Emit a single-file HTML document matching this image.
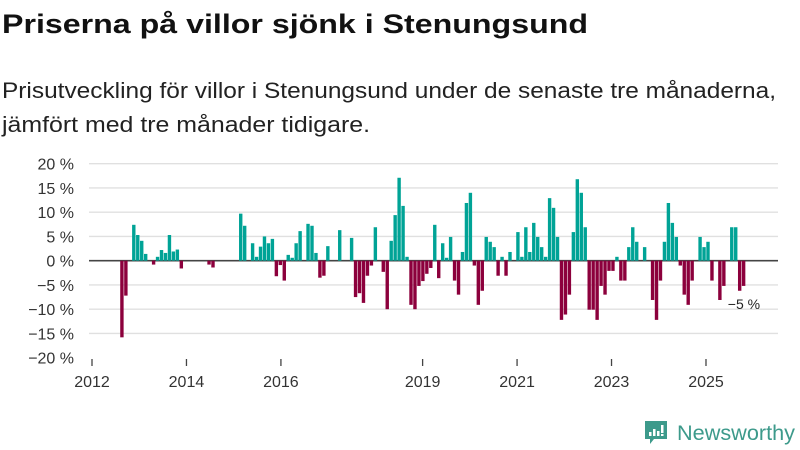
<!DOCTYPE html>
<html><head><meta charset="utf-8"><style>
html,body{margin:0;padding:0;background:#fff;}
svg{display:block;font-family:"Liberation Sans",sans-serif;}
</style></head><body>
<svg id="chart" width="800" height="450" viewBox="0 0 800 450" xmlns="http://www.w3.org/2000/svg">
<text x="2" y="33" font-size="27" font-weight="bold" fill="#111" textLength="586" lengthAdjust="spacingAndGlyphs">Priserna på villor sjönk i Stenungsund</text>
<text x="2" y="98" font-size="22" fill="#222" textLength="774" lengthAdjust="spacingAndGlyphs">Prisutveckling för villor i Stenungsund under de senaste tre månaderna,</text>
<text x="2" y="132" font-size="22" fill="#222" textLength="368" lengthAdjust="spacingAndGlyphs">jämfört med tre månader tidigare.</text>
<g id="grid"></g>
<g id="ylabels"></g>
<g id="bars"></g>
<g id="xaxis"></g>
<g>
<path d="M645 421 h22 v18 h-13 l-4 5 v-5 h-5 z" fill="#3d9a8b"/>
<rect x="649" y="432" width="2.5" height="4" fill="#fff"/>
<rect x="653" y="429" width="2.5" height="7" fill="#fff"/>
<rect x="657" y="431" width="2.5" height="5" fill="#fff"/>
<rect x="661" y="425" width="2.5" height="8" fill="#fff"/>
<rect x="661" y="434" width="2.5" height="2" fill="#fff"/>
<text x="677" y="440" font-size="21" fill="#3d9a8b" textLength="118" lengthAdjust="spacingAndGlyphs">Newsworthy</text>
</g>
</svg>
<script>
const months = [7,8,10,11,12,13,15,16,17,18,19,20,21,22,29,30,37,38,40,41,42,43,44,45,46,47,48,49,50,51,52,54,55,56,57,58,59,62,65,66,67,68,69,70,71,73,74,75,76,77,78,79,80,81,82,83,84,85,86,87,88,89,90,91,92,93,94,95,96,97,98,99,100,101,102,103,104,105,107,108,109,110,111,112,113,114,115,116,117,118,119,120,121,122,123,124,125,126,127,128,129,130,131,132,133,134,135,136,137,139,141,142,143,144,145,146,147,148,149,150,151,153,154,155,156,158,159,161,162,163,164];
const values = [-15.8,-7.2,7.4,5.3,4.1,1.4,-0.8,0.8,2.2,1.6,5.3,1.9,2.3,-1.6,-0.8,-1.4,9.7,7.2,3.6,0.8,2.9,5.0,3.6,4.5,-3.2,-0.9,-4.1,1.2,0.6,3.6,6.1,7.6,7.2,1.6,-3.5,-3.1,3.0,6.3,4.7,-7.5,-6.7,-8.7,-3.1,-1.0,6.9,-2.3,-10.0,4.1,9.4,17.1,11.3,0.8,-9.1,-10.0,-5.2,-4.2,-2.7,-1.5,7.4,-3.6,3.6,0.6,4.9,-4.1,-7.0,1.8,11.9,14.0,-1.0,-9.1,-6.2,4.9,3.9,2.8,-3.1,0.8,-3.1,1.8,5.9,0.8,6.9,1.8,7.8,4.9,2.8,0.8,12.9,10.9,4.9,-12.2,-11.1,-7.0,5.9,16.8,14.0,6.9,-10.1,-10.1,-12.2,-5.2,-7.0,-2.1,-2.1,0.8,-4.1,-4.1,2.8,6.9,3.9,2.8,-8.1,-12.2,-4.1,3.9,11.9,7.8,4.9,-1.0,-7.0,-9.1,-4.1,4.9,2.8,3.9,-4.1,-8.1,-5.2,6.9,6.9,-6.2,-5.2];
const yTicks = [20,15,10,5,0,-5,-10,-15,-20];
const yTickLabels = ["20 %","15 %","10 %","5 %","0 %","−5 %","−10 %","−15 %","−20 %"];
const xTicks = [2012,2014,2016,2019,2021,2023,2025];
const lastLabel = "−5 %";

const NS="http://www.w3.org/2000/svg";
const y = v => 260.7 - v*4.85;
const xBar = m => 92.5 + m*3.96;
const xYear = yr => 92 + (yr-2012)*47.23;
function mk(tag, attrs, parent){const e=document.createElementNS(NS,tag);for(const k in attrs)e.setAttribute(k,attrs[k]);parent.appendChild(e);return e;}
const grid=document.getElementById('grid'), yl=document.getElementById('ylabels'), bars=document.getElementById('bars'), xa=document.getElementById('xaxis');
yTicks.forEach((t,i)=>{
  if(t!==0 && t!==-20){
    const l=mk('line',{x1:89,x2:778,y1:y(t),y2:y(t),stroke:'#e0e0e0','stroke-width':1.3},grid);
    
    
  }
  const tx=mk('text',{x:74,y:y(t)+6,'font-size':16,'text-anchor':'end',fill:'#333'},yl);
  tx.textContent=yTickLabels[i];
  
  
});
months.forEach((m,i)=>{
  const v=values[i];
  const r=mk('rect',{x:xBar(m),width:3.4,y:Math.min(y(v),y(0)),height:Math.abs(y(v)-y(0)),fill:v>=0?'#00a396':'#8c003c'},bars);
  
  
});
const zl=mk('line',{x1:89,x2:778,y1:y(0),y2:y(0),stroke:'#444','stroke-width':1.6},grid);


xTicks.forEach(yr=>{
  const tk=mk('line',{x1:xYear(yr),x2:xYear(yr),y1:359,y2:366,stroke:'#444','stroke-width':1.3},xa);
  
  
  const tx=mk('text',{x:xYear(yr),y:387,'font-size':16,'text-anchor':'middle',fill:'#333'},xa);
  tx.textContent=yr;
  
  
});
const li=values.length-1;
const lab=mk('text',{x:xBar(months[li])+2,y:y(values[li])+23,'font-size':14,'text-anchor':'middle',fill:'#222'},bars);
lab.textContent=lastLabel;


</script>
</body></html>
